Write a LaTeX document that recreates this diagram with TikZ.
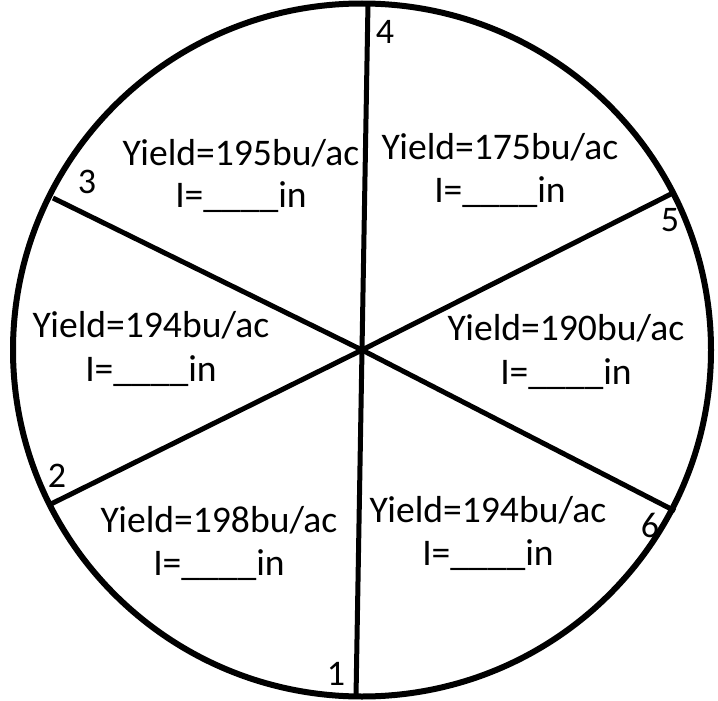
\documentclass[tikz,border=0pt]{standalone}
\usepackage{fontspec}
\setmainfont{Carlito}
\begin{document}
\begin{tikzpicture}[x=1pt,y=-1pt,
  ring/.style={line width=6pt},
  spoke/.style={line width=5pt},
  lab/.style={font=\fontsize{37.6}{44}\selectfont, inner sep=0pt, anchor=base},
  num/.style={font=\fontsize{36}{40}\selectfont, inner sep=0pt}]
\useasboundingbox (0,0) rectangle (718,701);
\coordinate (c) at (362,350);
\coordinate (p1) at (356,697);
\coordinate (p2) at (51,504);
\coordinate (p3) at (53,198);
\coordinate (p4) at (368,3);
\coordinate (p5) at (673,193);
\coordinate (p6) at (675,511);
\draw[ring] (c) ellipse [x radius=349, y radius=346.5];
\foreach \p in {p1,p2,p3,p4,p5,p6} \draw[spoke] (c) -- (\p);
% labels
\node[lab] (y3) at (241,165) {Yield=195bu/ac};
\node[lab] (i3) at (241,207) {I=\_\_\_\_in};
\node[lab] (y4) at (500,159) {Yield=175bu/ac};
\node[lab] (i4) at (500,202) {I=\_\_\_\_in};
\node[lab] (y2) at (151,337) {Yield=194bu/ac};
\node[lab] (i2) at (151,381) {I=\_\_\_\_in};
\node[lab] (y5) at (566,340) {Yield=190bu/ac};
\node[lab] (i5) at (566,384) {I=\_\_\_\_in};
\node[lab] (y1) at (219,532) {Yield=198bu/ac};
\node[lab] (i1) at (219,575) {I=\_\_\_\_in};
\node[lab] (y6) at (488,522) {Yield=194bu/ac};
\node[lab] (i6) at (488,565) {I=\_\_\_\_in};
% numbers
\node[num] (n4) at (385,32) {4};
\node[num] (n1) at (336,674) {1};
\node[num] (n3) at (87,182) {3};
\node[num] (n2) at (57,476) {2};
\node[num] (n5) at (670,220) {5};
\node[num] (n6) at (650,525) {6};
\end{tikzpicture}
\end{document}
